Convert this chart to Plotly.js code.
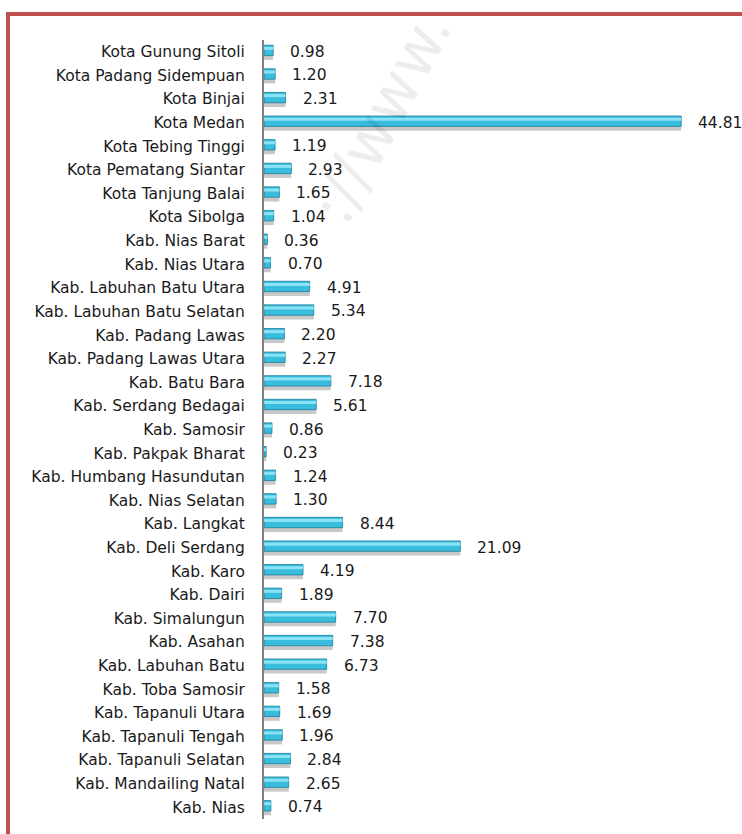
<!DOCTYPE html>
<html><head><meta charset="utf-8">
<script src="https://cdn.plot.ly/plotly-3.0.1.min.js"></script>
<style>
html,body{margin:0;padding:0;background:#fff;overflow:hidden;}
#frame{position:absolute;left:6px;top:12px;width:800px;height:900px;border-top:4px solid #c0504d;border-left:4px solid #c0504d;}
#chart{position:absolute;left:0;top:0;width:742px;height:834px;}
</style></head>
<body>
<div id="frame"></div>
<div id="chart"></div>
<script>
const categories = [
"Kota Gunung Sitoli","Kota Padang Sidempuan","Kota Binjai","Kota Medan","Kota Tebing Tinggi",
"Kota Pematang Siantar","Kota Tanjung Balai","Kota Sibolga","Kab. Nias Barat","Kab. Nias Utara",
"Kab. Labuhan Batu Utara","Kab. Labuhan Batu Selatan","Kab. Padang Lawas","Kab. Padang Lawas Utara",
"Kab. Batu Bara","Kab. Serdang Bedagai","Kab. Samosir","Kab. Pakpak Bharat","Kab. Humbang Hasundutan",
"Kab. Nias Selatan","Kab. Langkat","Kab. Deli Serdang","Kab. Karo","Kab. Dairi","Kab. Simalungun",
"Kab. Asahan","Kab. Labuhan Batu","Kab. Toba Samosir","Kab. Tapanuli Utara","Kab. Tapanuli Tengah",
"Kab. Tapanuli Selatan","Kab. Mandailing Natal","Kab. Nias"];
const values = [0.98,1.20,2.31,44.81,1.19,2.93,1.65,1.04,0.36,0.70,4.91,5.34,2.20,2.27,7.18,5.61,0.86,0.23,
1.24,1.30,8.44,21.09,4.19,1.89,7.70,7.38,6.73,1.58,1.69,1.96,2.84,2.65,0.74];
const valueLabels = values.map(v => v.toFixed(2));

const font = "DejaVu Sans, Verdana, sans-serif";

const shadow = {type:'bar', orientation:'h', y:categories, x:values, width:0.46, offset:-0.12,
  marker:{color:'#c8c8c8', line:{width:0}}, hoverinfo:'skip', showlegend:false};
const main = {type:'bar', orientation:'h', y:categories, x:values, width:0.44, offset:-0.28,
  marker:{color:'#38bddd', line:{color:'#1e7d98', width:0.8}}, showlegend:false};
const gloss = {type:'bar', orientation:'h', y:categories, x:values, width:0.13, offset:-0.21,
  marker:{color:'#8ae2f5', line:{width:0}}, hoverinfo:'skip', showlegend:false};

const annotations = categories.map((c,i)=>({x:values[i], y:c, xref:'x', yref:'y', text:valueLabels[i],
  showarrow:false, xanchor:'left', xshift:15, font:{family:font, size:15.5, color:'#1a1a1a'}}));
annotations.push({xref:'paper', yref:'paper', x:0.28, y:0.9, xanchor:'center', yanchor:'middle', text:'://www.', showarrow:false,
  textangle:-62, font:{family:font, size:62, color:'rgba(0,0,0,0.07)'}});

const layout = {
  width:742, height:834, paper_bgcolor:'rgba(0,0,0,0)', plot_bgcolor:'rgba(0,0,0,0)',
  margin:{l:264, r:60, t:40, b:15},
  barmode:'overlay',
  xaxis:{range:[0,44.9], visible:false, showgrid:false, zeroline:false},
  yaxis:{type:'category', autorange:'reversed', showgrid:false, zeroline:false,
    showline:true, linecolor:'#808080', linewidth:2, ticks:'', ticklabelstandoff:14,
    tickfont:{family:font, size:15.5, color:'#1a1a1a'}, automargin:false},
  annotations:annotations,
  font:{family:font}
};
Plotly.newPlot('chart',[shadow, main, gloss], layout, {displayModeBar:false, staticPlot:true});
</script>
</body></html>
